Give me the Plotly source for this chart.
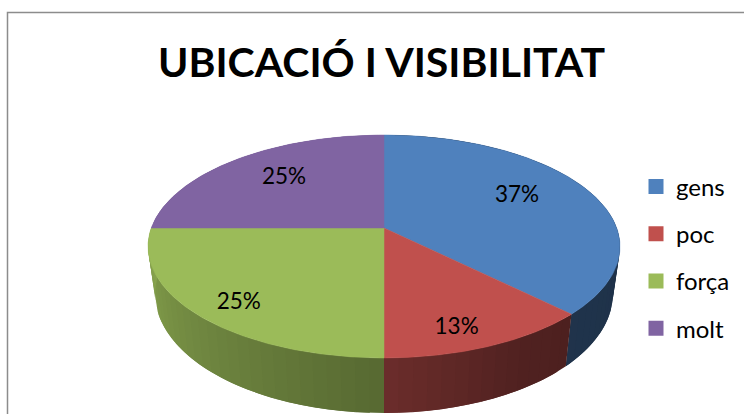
import numpy as np
import plotly.graph_objects as go

categories = ["gens", "poc", "força", "molt"]
values = [37.4, 12.6, 25.0, 25.0]
colors = ["#4F81BD", "#C0504D", "#9BBB59", "#8064A2"]
title_text = "UBICACIÓ I VISIBILITAT"

# projection of the pie disc onto the page (pixel-like axes)
CX, CY = 384.0, 228.0
A, B, K = 108.4, 232.7, 0.166
SX, SY, DROP = 0.97, 1.07, 46.0
# label placement inside each slice: radial fraction and vertical nudge
LABEL_R = [0.645, 0.72, 0.80, 0.654]
LABEL_DY = [-6, 19, 8, -3]


def top(theta, r=1.0):
    t = np.radians(theta)
    w = 1 + K * r * np.cos(t)
    return B * r * np.sin(t) / w, A * r * np.cos(t) / w


def page(dx, dy):
    return CX + dx, CY - dy


def bottom(theta):
    dx, dy = top(theta)
    return CX + SX * dx, CY - SY * dy + DROP


SHADE_ANGLE = [0, 90, 135, 150, 180, 270, 360]
SHADE_VALUE = [0.36, 0.38, 0.40, 0.42, 0.56, 0.88, 0.88]


def side_color(hex_color, theta):
    s = float(np.interp(theta, SHADE_ANGLE, SHADE_VALUE))
    rgb = [int(hex_color[i:i + 2], 16) for i in (1, 3, 5)]
    return "rgb({},{},{})".format(*[round(c * s) for c in rgb])


bounds = np.cumsum([0.0] + values) / sum(values) * 360.0
fig = go.Figure()

# side wall: each band runs on under the next one so no seams show
for i, col in enumerate(colors):
    start, end = bounds[i], bounds[i + 1]
    n = max(int((end - start) / 3.0), 1)
    edges = np.linspace(start, end, n + 1)
    for j in range(n):
        a0 = edges[j]
        a1 = edges[min(j + 2, n)]
        arc = np.linspace(a0, a1, 5)
        ux, uy = page(*top(arc))
        lx, ly = bottom(arc)
        c = side_color(col, (edges[j] + edges[j + 1]) / 2)
        fig.add_trace(go.Scatter(
            x=np.r_[ux, lx[::-1], ux[0]], y=np.r_[uy, ly[::-1], uy[0]],
            mode="lines", fill="toself", fillcolor=c,
            line=dict(width=0), hoverinfo="skip", showlegend=False))

# top faces
for i, col in enumerate(colors):
    arc = np.linspace(bounds[i], bounds[i + 1], 120)
    ax, ay = page(*top(arc))
    fig.add_trace(go.Scatter(
        x=np.r_[CX, ax, CX], y=np.r_[CY, ay, CY],
        mode="lines", fill="toself", fillcolor=col,
        line=dict(color=col, width=0.5), name=categories[i],
        hoverinfo="skip", showlegend=False))

# percentage labels
for i, v in enumerate(values):
    mid = (bounds[i] + bounds[i + 1]) / 2
    lx, ly = page(*top(mid, LABEL_R[i]))
    fig.add_trace(go.Scatter(
        x=[lx], y=[ly + LABEL_DY[i]], mode="text",
        text=["{:.0f}%".format(v)], textposition="middle center",
        textfont=dict(family="Lato", size=22.5, color="#000000"),
        hoverinfo="skip", showlegend=False))

# legend entries
for name, col in zip(categories, colors):
    fig.add_trace(go.Scatter(
        x=[None], y=[None], mode="markers", name=name, legendgroup=name,
        marker=dict(symbol="square", size=15, color=col)))

fig.update_layout(
    width=744, height=414, margin=dict(l=0, r=0, t=0, b=0),
    paper_bgcolor="white", plot_bgcolor="white",
    title=dict(text="<b>" + title_text + "</b>", x=381.5 / 744, xanchor="center",
               y=1 - 63 / 414, yanchor="middle",
               font=dict(family="Lato", size=41, color="#000000")),
    xaxis=dict(range=[0, 744], visible=False, fixedrange=True),
    yaxis=dict(range=[414, 0], visible=False, fixedrange=True),
    legend=dict(x=636 / 744, xanchor="left", y=1 - 164.5 / 414, yanchor="top",
                font=dict(family="Lato", size=24, color="#000000"),
                tracegroupgap=13, itemwidth=30, bgcolor="rgba(0,0,0,0)"),
    shapes=[dict(type="rect", xref="x", yref="y", x0=7.5, y0=12.5, x1=760, y1=430,
                 line=dict(color="#8c8c8c", width=1.5), layer="below")],
)

fig.write_html("out.html", config=dict(displayModeBar=False),
               post_script="document.body.style.margin='0';")
